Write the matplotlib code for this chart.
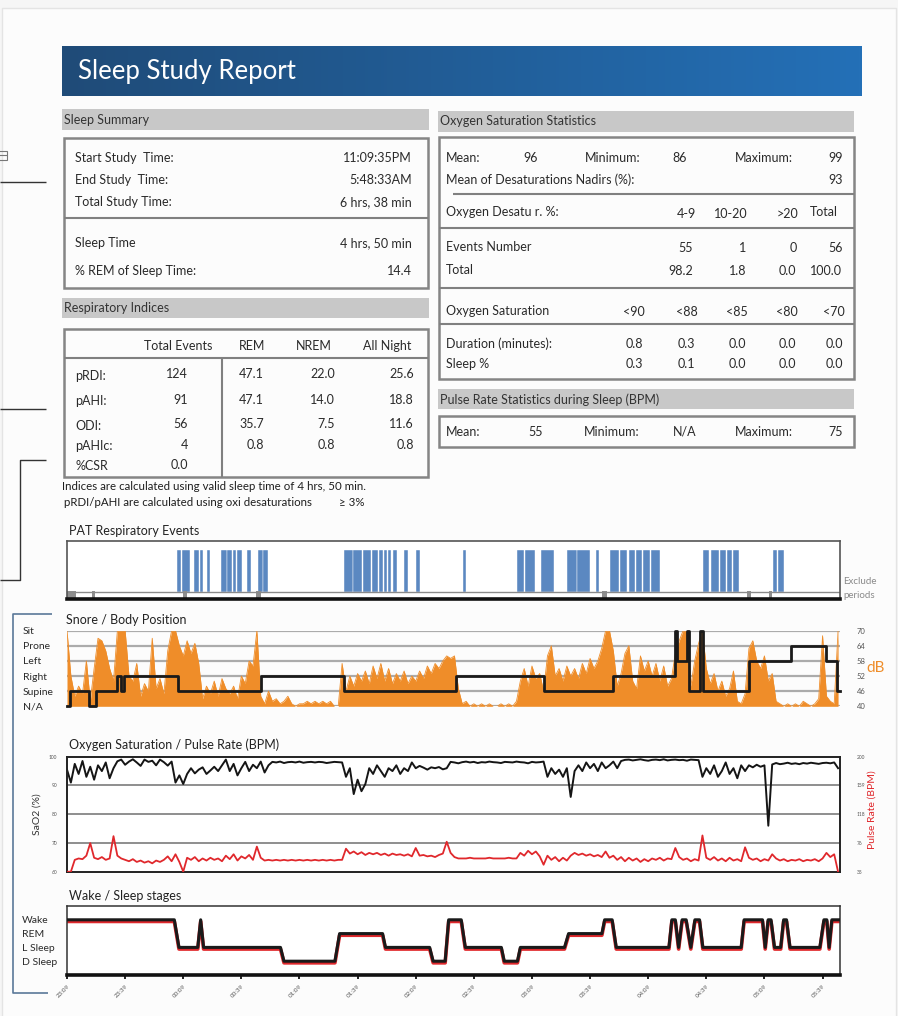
import numpy as np
import matplotlib
matplotlib.use("Agg")
import matplotlib.pyplot as plt
from matplotlib.patches import Rectangle
from matplotlib.colors import LinearSegmentedColormap

plt.rcParams['font.family'] = ['Lato', 'DejaVu Sans']

W, H = 898, 1016

# ---------------- data ----------------
study_minutes = 399
tick_minutes = [0, 30, 60, 90, 120, 150, 180, 210, 240, 270, 300, 330, 360, 390]
tick_labels = ['23:09', '23:39', '00:09', '00:39', '01:09', '01:39', '02:09',
               '02:39', '03:09', '03:39', '04:09', '04:39', '05:09', '05:39']
sample_step = 2  # minutes between trace samples

summary_labels = ['Start Study  Time:', 'End Study  Time:', 'Total Study Time:']
summary_values = ['11:09:35PM', '5:48:33AM', '6 hrs, 38 min']
sleep_labels = ['Sleep Time', '% REM of Sleep Time:']
sleep_values = ['4 hrs, 50 min', '14.4']

resp_columns = ['Total Events', 'REM', 'NREM', 'All Night']
resp_rows = ['pRDI:', 'pAHI:', 'ODI:', 'pAHIc:', '%CSR']
resp_total = ['124', '91', '56', '4', '0.0']
resp_rem = ['47.1', '47.1', '35.7', '0.8', '']
resp_nrem = ['22.0', '14.0', '7.5', '0.8', '']
resp_all = ['25.6', '18.8', '11.6', '0.8', '']

spo2_mean, spo2_min, spo2_max, spo2_nadir = '96', '86', '99', '93'
desat_bins = ['4-9', '10-20', '>20', 'Total']
desat_events = ['55', '1', '0', '56']
desat_pct = ['98.2', '1.8', '0.0', '100.0']
sat_thresholds = ['<90', '<88', '<85', '<80', '<70']
sat_duration = ['0.8', '0.3', '0.0', '0.0', '0.0']
sat_sleep_pct = ['0.3', '0.1', '0.0', '0.0', '0.0']
pulse_mean, pulse_min, pulse_max = '55', 'N/A', '75'

# PAT respiratory events (minutes from study start)
event_starts = [56.9, 59.4, 65.7, 68.7, 72.3, 79.5, 82.8, 85.8, 87.6, 92.8, 98.6, 101.3,
                143.1, 147.8, 152.9, 157.3, 160.8, 163.6, 165.9, 168.4, 174.1, 180.2, 204.6,
                232.3, 236.3, 244.7, 258.1, 263.3, 272.9, 280.3, 285.5, 290.1, 293.6, 297.3, 301.5,
                328.3, 332.4, 337.3, 340.7, 343.8, 364.4, 366.9]
event_ends = [58.7, 63.5, 68.0, 70.0, 74.0, 82.5, 85.3, 87.1, 90.3, 94.8, 101.0, 103.9,
              147.5, 152.4, 157.0, 160.5, 163.3, 165.3, 167.3, 170.2, 176.0, 182.1, 205.8,
              236.0, 241.8, 251.6, 263.0, 270.0, 274.6, 284.7, 289.1, 293.0, 297.0, 301.0, 306.1,
              331.4, 336.5, 340.2, 343.5, 346.9, 366.3, 369.9]
exclude_starts = [0.0, 12.7, 59.9, 97.6, 276.4, 351.0, 362.4]
exclude_ends = [4.6, 14.5, 61.9, 99.9, 278.7, 353.1, 363.9]

# body position
position_names = ['N/A', 'Supine', 'Right', 'Left', 'Prone', 'Sit']
pos_times = [0, 1.5, 11.2, 15.1, 26.0, 28.1, 29.6, 57.1, 99.9, 142.8, 201.0, 246.2,
             281.7, 313.6, 314.8, 320.1, 321.3, 326.6, 328.4, 351.8, 373.9, 391.7, 397.6]
pos_sequence = ['N/A', 'Supine', 'N/A', 'Supine', 'Right', 'Supine', 'Right', 'Supine',
                'Right', 'Supine', 'Right', 'Supine', 'Right', 'Sit', 'Left', 'Sit',
                'Supine', 'Sit', 'Supine', 'Left', 'Prone', 'Left', 'Supine']

# snore level (dB), one value every 2 minutes
snore_db = [70, 52, 44, 48, 45, 58, 42, 55, 67, 66, 62, 55, 50, 70, 70, 70, 52, 50, 57, 44,
            49, 46, 67, 47, 51, 45, 62, 70, 70, 64, 60, 66, 61, 65, 57, 43, 48, 45, 50, 44,
            51, 47, 45, 48, 43, 52, 49, 58, 56, 70, 44, 41, 46, 42, 43, 41, 42, 44, 41, 40,
            41, 41, 42, 41, 42, 41, 42, 41, 42, 40, 40, 57, 46, 52, 48, 53, 50, 54, 49, 56,
            51, 57, 50, 55, 49, 53, 50, 54, 49, 52, 50, 54, 51, 56, 53, 57, 55, 58, 60, 59,
            60, 47, 41, 42, 40, 41, 40, 41, 40, 41, 40, 40, 41, 40, 41, 40, 42, 50, 55, 48,
            56, 51, 53, 46, 60, 64, 52, 55, 50, 56, 52, 55, 51, 57, 53, 59, 55, 58, 63, 70,
            70, 62, 48, 53, 61, 64, 50, 47, 60, 54, 58, 52, 57, 50, 56, 48, 51, 61, 66, 70,
            70, 48, 58, 65, 70, 55, 49, 53, 46, 50, 44, 47, 54, 42, 41, 45, 63, 66, 58, 55,
            60, 50, 53, 42, 41, 40, 41, 40, 41, 40, 42, 41, 40, 41, 43, 68, 44, 42, 41, 70]

# SaO2 (%), one value every 2 minutes
sao2 = [95.5, 91.0, 97.5, 94.0, 98.5, 93.0, 96.5, 92.0, 97.0, 95.0, 98.0, 92.5, 96.0,
        98.4, 99.0, 97.2, 98.3, 99.1, 98.0, 96.8, 99.0, 98.2, 98.6, 97.0, 99.0, 98.1, 96.9, 98.3,
        91.0, 93.5, 90.5, 94.0,
        96.0, 94.2, 95.5, 96.3, 94.0, 95.2, 96.5, 95.0, 97.0,
        99.0, 95.0, 97.5, 93.5, 96.0, 98.2, 95.0, 97.2, 96.0, 98.3, 94.5, 97.0,
        98.2, 98.0, 98.3, 97.8, 98.1, 98.2, 98.0, 98.3, 97.9, 98.1, 98.2, 98.0, 98.2, 98.1, 97.8,
        98.0, 98.2, 98.1, 98.0,
        93.0, 96.0, 87.0, 92.0, 88.0, 90.5, 96.0, 94.0, 97.0, 95.0, 93.0, 96.0, 95.0, 97.0,
        94.0, 96.0, 95.0, 98.0,
        96.0, 96.8, 96.2, 95.5, 96.3, 96.0, 96.4, 95.6, 96.0,
        98.2, 98.0, 97.7, 98.1, 98.3, 98.0, 98.2, 97.8, 98.1, 98.0, 98.3, 98.1, 98.0, 97.8,
        98.2, 98.1, 98.0, 98.3, 98.1, 98.0, 97.7, 98.2, 98.0, 98.1, 98.3,
        93.0, 96.0, 94.0, 95.5, 93.0, 96.0, 86.0, 95.0,
        97.0, 95.0, 98.0, 96.0, 97.5, 95.0, 98.0, 96.0, 97.0, 98.3, 96.0, 98.5,
        98.9, 99.0, 98.7, 98.9, 99.1, 98.8, 98.6, 98.9, 99.0, 98.8, 99.1, 98.7, 98.9, 99.0,
        98.8, 98.9, 98.6, 99.0, 98.9, 98.8,
        93.0, 96.0, 94.0, 97.0, 93.0, 95.0, 98.0, 94.0, 96.0, 92.5, 97.0, 95.0,
        97.0, 96.3, 97.2, 96.5, 97.0, 76.0,
        97.3, 97.8, 97.4, 97.6, 97.9, 97.5, 97.7, 97.4, 97.8, 97.6, 97.9, 97.7, 97.5, 97.8,
        97.9, 97.7, 98.0, 96.0]

# pulse rate (BPM), one value every 2 minutes
pulse = [35, 35, 52, 54, 53, 58, 76, 55, 53, 56, 52, 54, 86, 58, 54, 52, 50, 53, 49, 51,
         48, 50, 47, 51, 49, 52, 57, 50, 60, 49, 35, 55, 52, 56, 50, 54, 51, 55, 52, 54,
         50, 58, 53, 60, 51, 57, 54, 59, 52, 71, 55, 51, 52, 51, 52, 51, 52, 51, 52, 51,
         52, 51, 52, 51, 52, 51, 52, 51, 52, 51, 52, 52, 68, 61, 64, 60, 63, 59, 62, 60,
         62, 59, 61, 58, 61, 59, 60, 58, 60, 57, 69, 58, 59, 57, 58, 56, 59, 61, 78, 62,
         56, 54, 54, 54, 55, 54, 54, 54, 54, 55, 54, 54, 54, 54, 55, 54, 54, 62, 58, 65,
         60, 64, 57, 45, 58, 52, 56, 50, 55, 51, 58, 62, 59, 61, 58, 60, 57, 59, 56, 64,
         55, 58, 52, 56, 50, 55, 51, 54, 49, 53, 50, 54, 52, 55, 51, 54, 53, 69, 56, 52,
         54, 50, 53, 51, 87, 55, 52, 56, 51, 54, 50, 55, 51, 53, 50, 70, 55, 52, 54, 50,
         53, 51, 60, 54, 51, 53, 50, 52, 51, 53, 50, 52, 51, 53, 50, 54, 62, 56, 60, 35]

# wake / sleep stages (vertices, minutes)
stage_names = ['D Sleep', 'L Sleep', 'REM', 'Wake']
stage_times = [0, 55.4, 57.8, 67.5, 69.0, 70.5, 110.2, 112.0, 138.3, 140.7, 162.9, 164.4,
               187.2, 189.0, 195.2, 197.0, 203.5, 205.6, 224.2, 225.7, 232.5, 234.0, 256.8,
               258.9, 276.1, 277.5, 281.4, 283.5, 310.7, 312.2, 314.0, 315.7, 317.5, 319.6,
               322.0, 324.1, 326.5, 328.2, 348.0, 349.5, 359.0, 360.4, 361.9, 363.4, 365.2,
               368.4, 369.9, 371.4, 373.2, 388.6, 390.7, 392.2, 393.4, 394.8, 399.0]
stage_sequence = ['Wake', 'Wake', 'L Sleep', 'L Sleep', 'Wake', 'L Sleep', 'L Sleep', 'D Sleep',
                  'D Sleep', 'REM', 'REM', 'L Sleep', 'L Sleep', 'D Sleep', 'D Sleep', 'Wake',
                  'Wake', 'L Sleep', 'L Sleep', 'D Sleep', 'D Sleep', 'L Sleep', 'L Sleep',
                  'REM', 'REM', 'Wake', 'Wake', 'L Sleep', 'L Sleep', 'Wake', 'Wake',
                  'L Sleep', 'Wake', 'Wake', 'L Sleep', 'Wake', 'Wake', 'L Sleep', 'L Sleep',
                  'Wake', 'Wake', 'L Sleep', 'Wake', 'Wake', 'L Sleep', 'L Sleep', 'Wake',
                  'Wake', 'L Sleep', 'L Sleep', 'Wake', 'Wake', 'L Sleep', 'Wake', 'Wake']

# ---------------- style ----------------
ORANGE = '#ef8d29'
BLUE = '#5b88c1'
RED = '#e0282c'
TXT = '#2a2a2a'
BARGRAY = '#c8c8c8'
BOXEDGE = '#858585'

fig = plt.figure(figsize=(W / 100, H / 100), dpi=100)
fig.patch.set_facecolor('#f6f6f6')

bg = fig.add_axes([0, 0, 1, 1])
bg.set_xlim(0, W)
bg.set_ylim(H, 0)
bg.axis('off')


def T(x, y, s, size=9, ha='left', color=TXT, **kw):
    bg.text(x, y, s, fontsize=size, ha=ha, va='center', color=color, **kw)


def L(xs, ys, color='#808080', lw=1.5):
    bg.plot(xs, ys, color=color, lw=lw, solid_capstyle='butt')


def box(x0, y0, x1, y1, ec=BOXEDGE, lw=1.8):
    bg.add_patch(Rectangle((x0, y0), x1 - x0, y1 - y0, fill=False, ec=ec, lw=lw))


def section(x0, y0, x1, y1, label):
    bg.add_patch(Rectangle((x0, y0), x1 - x0, y1 - y0, fc=BARGRAY, ec='none'))
    T(x0 + 1.5, (y0 + y1) / 2, label, size=9, color='#333333')


def add_ax(x0, y0, x1, y1):
    return fig.add_axes([x0 / W, 1 - y1 / H, (x1 - x0) / W, (y1 - y0) / H])


# page card
bg.add_patch(Rectangle((2, 8), 894, 1010, fc='#fcfcfc', ec='#e4e4e4', lw=1))

# header banner with gradient
grad = np.linspace(0, 1, 256).reshape(1, -1)
cmap = LinearSegmentedColormap.from_list('hdr', ['#1f4b78', '#2470b7'])
bg.imshow(grad, extent=(62, 862, 96, 46), cmap=cmap, aspect='auto', zorder=1)
bg.set_xlim(0, W)
bg.set_ylim(H, 0)
T(78, 71, 'Sleep Study Report', size=18.5, color='white', zorder=2)

# left decorations
L([0, 45.7], [181.7, 181.7], color='#333333', lw=1)
L([0, 45.7], [409.3, 409.3], color='#333333', lw=1)
L([45.7, 20, 20, 0], [460, 460, 580, 580], color='#333333', lw=1)
L([52, 13, 13, 48], [613.5, 613.5, 993, 993], color='#5a7899', lw=1.2)
bg.add_patch(Rectangle((-2, 150.5), 8.5, 9, fill=False, ec='#777777', lw=0.8))
L([-2, 6.5], [155, 155], color='#777777', lw=0.8)

# ---- Sleep summary ----
section(62, 109.3, 428.5, 130, 'Sleep Summary')
box(64, 137.5, 428, 288.3)
L([64, 428], [217.7, 217.7])
for y, lab, val in zip([157.7, 180, 201.7], summary_labels, summary_values):
    T(75, y, lab)
    T(411.5, y, val, ha='right')
for y, lab, val in zip([243.3, 270.7], sleep_labels, sleep_values):
    T(75, y, lab)
    T(411.5, y, val, ha='right')

# ---- Respiratory indices ----
section(62, 298.3, 428.5, 318.3, 'Respiratory Indices')
box(64, 328.5, 428, 476.7)
L([64, 428], [358.3, 358.3])
L([221.7, 221.7], [358.3, 476.7])
for xc, lab in zip([178.3, 251.7, 314, 386.7], resp_columns):
    T(xc, 346, lab, ha='center')
row_y = [374.5, 399.5, 424, 445, 465]
for i, y in enumerate(row_y):
    T(75, y + 1.5, resp_rows[i])
    T(188, y, resp_total[i], ha='right')
    T(264, y, resp_rem[i], ha='right')
    T(335, y, resp_nrem[i], ha='right')
    T(414, y, resp_all[i], ha='right')
T(62.5, 486.7, 'Indices are calculated using valid sleep time of 4 hrs, 50 min.', size=8.3,
  color='#1e1e1e')
T(64, 502.3, 'pRDI/pAHI are calculated using oxi desaturations', size=8.3, color='#1e1e1e')
T(339, 502.3, '\u2265 3%', size=8.3, color='#1e1e1e')

# ---- Oxygen saturation statistics ----
section(438.3, 110.5, 854, 131.5, 'Oxygen Saturation Statistics')
box(439, 137.3, 854, 379.3)
L([452.7, 854], [194.3, 194.3])
L([439, 854], [227.7, 227.7])
L([439, 854], [288.3, 288.3])
L([439, 854], [324.3, 324.3])
T(446, 157.7, 'Mean:')
T(530.3, 157.7, spo2_mean, ha='center')
T(585, 157.7, 'Minimum:')
T(679.3, 157.7, spo2_min, ha='center')
T(735, 157.7, 'Maximum:')
T(843.3, 157.7, spo2_max, ha='right')
T(446, 180, 'Mean of Desaturations Nadirs (%):')
T(843.3, 180, spo2_nadir, ha='right')
T(446, 212.5, 'Oxygen Desatu r. %:')
for xc, lab in zip([686, 730.7, 787.3, 824.3], desat_bins):
    T(xc, 213.5 if lab != 'Total' else 212, lab, ha='center')
T(446, 247.3, 'Events Number')
for xr, v in zip([693.3, 746.7, 796.7, 843.3], desat_events):
    T(xr, 247.7, v, ha='right')
T(446, 270.5, 'Total')
for xc, v in zip([680.7, 737.3, 787.3, 826], desat_pct):
    T(xc, 271, v, ha='center')
sat_x = [634.3, 686.7, 737, 787.3, 834]
T(446, 311, 'Oxygen Saturation')
for xc, v in zip(sat_x, sat_thresholds):
    T(xc, 312, v, ha='center')
T(446, 343.5, 'Duration (minutes):')
for xc, v in zip(sat_x, sat_duration):
    T(xc, 343.5, v, ha='center')
T(446, 363.5, 'Sleep %')
for xc, v in zip(sat_x, sat_sleep_pct):
    T(xc, 363.8, v, ha='center')

# ---- Pulse rate ----
section(438.3, 389.3, 854, 409.3, 'Pulse Rate Statistics during Sleep (BPM)')
box(439, 415.7, 854, 446.7)
T(446, 431.7, 'Mean:')
T(536, 431.7, pulse_mean, ha='center')
T(584, 431.7, 'Minimum:')
T(684.3, 431.7, pulse_min, ha='center')
T(735, 431.7, 'Maximum:')
T(843.3, 431.7, pulse_max, ha='right')

# ---- chart titles / side labels ----
T(69, 531, 'PAT Respiratory Events', size=9, color='#222222')
T(66, 620.5, 'Snore / Body Position', size=9, color='#222222')
T(69, 745, 'Oxygen Saturation / Pulse Rate (BPM)', size=9, color='#222222')
T(69, 896, 'Wake / Sleep stages', size=9, color='#222222')
T(843, 582, 'Exclude', size=7, color='#8a8a8a')
T(843, 595, 'periods', size=7, color='#8a8a8a')
T(866, 667.5, 'dB', size=11, color=ORANGE)
T(37, 814, 'SaO2 (%)', size=7.5, color='#333333', rotation=90, ha='center')
T(872, 810, 'Pulse Rate (BPM)', size=7.5, color=RED, rotation=90, ha='center')

t = np.arange(len(snore_db)) * sample_step

# ---- PAT respiratory events ----
ax1 = add_ax(67, 541, 840, 599)
ax1.set_xlim(0, study_minutes)
ax1.set_ylim(0, 1)
ev_s = np.array(event_starts)
ev_e = np.array(event_ends)
ax1.bar(ev_s, 0.725, width=ev_e - ev_s, bottom=0.12, align='edge', color=BLUE,
        edgecolor='white', linewidth=0.3)
ax1.axhline(0.12, color='#8a8a8a', lw=1)
ex_s = np.array(exclude_starts)
ex_e = np.array(exclude_ends)
ax1.bar(ex_s, 0.13, width=ex_e - ex_s, bottom=0, align='edge', color='#8e8e8e', lw=0)
ax1.set_xticks([])
ax1.set_yticks([])
for s in ['top', 'left', 'right']:
    ax1.spines[s].set_color('#555555')
    ax1.spines[s].set_linewidth(1.2)
ax1.spines['bottom'].set_color('#111111')
ax1.spines['bottom'].set_linewidth(2.6)

# ---- snore / body position ----
ax2 = add_ax(67, 630.7, 840, 706.3)
ax2.set_xlim(0, study_minutes)
ax2.set_ylim(40, 70)
level_db = [40 + 6 * i for i in range(len(position_names))]
for v in level_db:
    ax2.axhline(v, color='#ababab', lw=1.6, zorder=0)
ax2.fill_between(t, 40, snore_db, color=ORANGE, lw=0, zorder=1)
ax2.plot(t, snore_db, color=ORANGE, lw=0.6, zorder=1)
pos_db = [40 + 6 * position_names.index(p) for p in pos_sequence]
ax2.step(pos_times + [study_minutes], pos_db + [pos_db[-1]], where='post',
         color='#1a1a1a', lw=2, zorder=3, clip_on=False)
ax2.set_xticks([])
ax2.set_yticks(level_db)
ax2.set_yticklabels(position_names, fontsize=7.5, color='#2a2a2a')
for lab in ax2.get_yticklabels():
    lab.set_horizontalalignment('left')
ax2.tick_params(axis='y', length=0, pad=31.7)
for s in ax2.spines.values():
    s.set_visible(False)
ax2.patch.set_alpha(0)
tw2 = ax2.twinx()
tw2.set_ylim(40, 70)
tw2.set_yticks(level_db)
tw2.set_yticklabels([str(v) for v in level_db], fontsize=5.5, color='#555555')
tw2.tick_params(axis='y', length=0, pad=12)
for s in tw2.spines.values():
    s.set_visible(False)

# ---- oxygen saturation / pulse ----
ax3 = add_ax(67, 756.7, 840, 871.7)
ax3.set_xlim(0, study_minutes)
ax3.set_ylim(60, 100)
for v in [70, 80, 90]:
    ax3.axhline(v, color='#707070', lw=1.1, zorder=0)
ax3.plot(t, sao2, color='#151515', lw=1.4, zorder=2)
ax3.set_xticks([])
ax3.set_yticks([60, 70, 80, 90, 100])
ax3.set_yticklabels(['60', '70', '80', '90', '100'], fontsize=3.5, color='#555555')
ax3.tick_params(axis='y', length=0, pad=7)
for s in ax3.spines.values():
    s.set_color('#222222')
    s.set_linewidth(1.4)
tw3 = ax3.twinx()
tw3.set_ylim(35, 200)
pr_ticks = [35, 76.25, 117.5, 158.75, 200]
tw3.set_yticks(pr_ticks)
tw3.set_yticklabels(['35', '76', '118', '159', '200'], fontsize=3.5, color='#555555')
tw3.tick_params(axis='y', length=0, pad=12)
tw3.plot(t, pulse, color=RED, lw=1.3)
for s in tw3.spines.values():
    s.set_visible(False)

# ---- wake / sleep stages ----
ax4 = add_ax(67, 906, 840, 975)
ax4.set_xlim(0, study_minutes)
ax4.set_ylim(-1, 4)
st_lvl = np.array([stage_names.index(s) for s in stage_sequence], dtype=float)
ax4.plot(stage_times, st_lvl - 0.12, color=RED, lw=2.6, zorder=2)
ax4.plot(stage_times, st_lvl, color='#1a1a1a', lw=2.2, zorder=3)
ax4.set_yticks(range(len(stage_names)))
ax4.set_yticklabels(stage_names, fontsize=7.5, color='#2a2a2a')
for lab in ax4.get_yticklabels():
    lab.set_horizontalalignment('left')
ax4.tick_params(axis='y', length=0, pad=32.4)
ax4.set_xticks(tick_minutes)
ax4.set_xticklabels(tick_labels, rotation=45, ha='right', rotation_mode='anchor',
                    fontsize=4.5, color='#555555')
ax4.tick_params(axis='x', length=3, width=1.3, color='#111111', pad=3)
for s in ['top', 'left', 'right']:
    ax4.spines[s].set_color('#333333')
    ax4.spines[s].set_linewidth(1.1)
ax4.spines['bottom'].set_color('#111111')
ax4.spines['bottom'].set_linewidth(2.6)

fig.savefig('out.png', dpi=100, facecolor=fig.get_facecolor())
